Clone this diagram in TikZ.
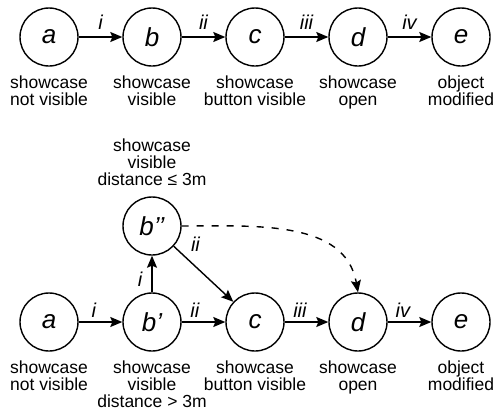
\documentclass[tikz,border=0pt]{standalone}
\usepackage{fontspec}
\setmainfont{Liberation Sans}
\usetikzlibrary{positioning, arrows.meta, calc}

\begin{document}
\begin{tikzpicture}[
            x=1pt, y=1pt,
            >={Stealth[length=12pt, width=10pt, inset=2pt]},
            auto,
            state/.style={circle, draw, line width=1.4pt, minimum size=58pt, inner sep=0pt,
                font=\fontsize{26}{26}\selectfont\itshape},
            caption/.style={align=center, font=\fontsize{17.5}{17}\selectfont, inner sep=0pt},
            trans/.style={->, line width=1.4pt},
            tlabel/.style={font=\fontsize{20}{20}\selectfont\itshape, inner sep=4pt},
        ]
            \useasboundingbox (0,0) rectangle (499,-418);

            % Draw the upper row of states
            \foreach \name / \x / \txt in {a/49/showcase\\not visible, b/152/showcase\\visible,
                    c/255/showcase\\button visible, d/358/showcase\\open, e/461/object\\modified}
                \node[state, label={[caption, label distance=9pt]below:\txt}] (T-\name) at (\x,-37) {\name};

            % Draw the lower row of states
            \foreach \name / \x / \txt in {a/49/showcase\\not visible, c/255/showcase\\button visible,
                    d/358/showcase\\open, e/461/object\\modified}
                \node[state, label={[caption, label distance=9pt]below:\txt}] (B-\name) at (\x,-322) {\name};
            \node[state, label={[caption, label distance=9pt]below:showcase\\visible\\distance > 3m}] (B-b1) at (152,-322) {b’};
            \node[state, label={[caption, label distance=10pt]above:showcase\\visible\\distance ≤ 3m}] (B-b2) at (152,-226) {b’’};

            % Connect the upper row
            \path (T-a) edge[trans] node[tlabel, midway, above=3pt] {i} (T-b);
            \path (T-b) edge[trans] node[tlabel, midway, above=3pt] {ii} (T-c);
            \path (T-c) edge[trans] node[tlabel, midway, above=3pt] {iii} (T-d);
            \path (T-d) edge[trans] node[tlabel, midway, above=3pt] {iv} (T-e);

            % Connect the lower row
            \path (B-a) edge[trans] node[tlabel, pos=0.35, above] {i} (B-b1);
            \path (B-b1) edge[trans] node[tlabel, pos=0.3, above] {ii} (B-c);
            \path (B-c) edge[trans] node[tlabel, pos=0.35, above] {iii} (B-d);
            \path (B-d) edge[trans] node[tlabel, pos=0.35, above] {iv} (B-e);
            \path (B-b1) edge[trans] node[tlabel, pos=0.35, left=5pt] {i} (B-b2);
            \path (B-b2) edge[trans] node[tlabel, pos=0.2, above right=1pt] {ii} (B-c);
            \draw[trans, dash pattern=on 7pt off 8pt] (B-b2.east) to[out=0, in=100] (B-d.north);
        \end{tikzpicture}
\end{document}
